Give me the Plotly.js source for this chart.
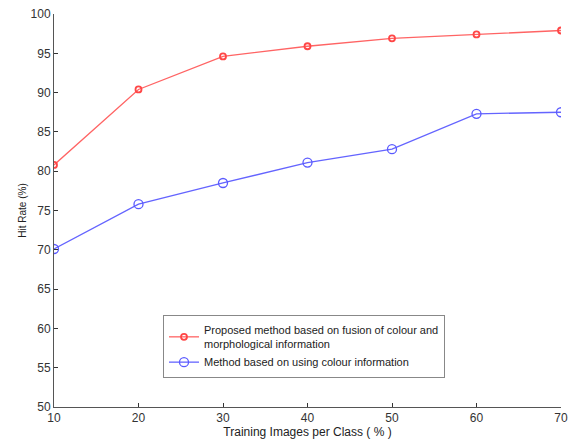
<!DOCTYPE html>
<html><head><meta charset="utf-8">
<script src="https://cdn.plot.ly/plotly-3.0.1.min.js"></script>
<style>html,body{margin:0;padding:0;background:#fff}#chart{width:568px;height:439px}</style>
</head><body><div id="chart"></div>
<script>
const trainingPct = [10, 20, 30, 40, 50, 60, 70];
const proposedHitRate = [80.8, 90.4, 94.6, 95.9, 96.9, 97.4, 97.9];
const colourOnlyHitRate = [70.1, 75.8, 78.5, 81.1, 82.8, 87.3, 87.5];
const proposedName = 'Proposed method based on fusion of colour and<br>morphological information';
const colourOnlyName = 'Method based on using colour information';
const xTicks = [10, 20, 30, 40, 50, 60, 70];
const yTicks = [50, 55, 60, 65, 70, 75, 80, 85, 90, 95, 100];

const traces = [
  {x: trainingPct, y: proposedHitRate, name: proposedName, mode: 'lines+markers', type: 'scatter',
   line: {color: 'rgb(255,100,100)', width: 1.3},
   marker: {symbol: 'circle-open', size: 6, color: 'rgb(255,70,70)', line: {width: 1.8, color: 'rgb(255,70,70)'}}},
  {x: trainingPct, y: colourOnlyHitRate, name: colourOnlyName, mode: 'lines+markers', type: 'scatter',
   line: {color: 'rgb(100,100,255)', width: 1.3},
   marker: {symbol: 'circle-open', size: 9, color: 'rgb(90,90,255)', line: {width: 1.3, color: 'rgb(90,90,255)'}}}
];

const layout = {
  width: 568, height: 439,
  margin: {l: 54, r: 7, t: 14, b: 32},
  paper_bgcolor: '#fff', plot_bgcolor: '#fff',
  font: {family: 'Liberation Sans, Arial, sans-serif', color: '#333', size: 12},
  showlegend: true,
  legend: {x: 0.215, y: 0.234, xanchor: 'left', yanchor: 'top', bordercolor: '#888', borderwidth: 1,
           bgcolor: '#fff', font: {size: 11, color: '#222'}, tracegroupgap: 0},
  xaxis: {range: [10, 70], tickvals: xTicks, ticks: 'inside', ticklen: 4, tickcolor: '#333',
          showline: true, linecolor: '#555', linewidth: 1, showgrid: false, zeroline: false,
          tickfont: {size: 12, color: '#333'},
          title: {text: 'Training Images per Class ( % )', font: {size: 12, color: '#222'}, standoff: 1}},
  yaxis: {range: [50, 100], tickvals: yTicks, ticks: 'inside', ticklen: 4, tickcolor: '#333',
          showline: true, linecolor: '#555', linewidth: 1, showgrid: false, zeroline: false,
          tickfont: {size: 12, color: '#333'},
          title: {text: 'Hit Rate (%)', font: {size: 10, color: '#222'}, standoff: 2}}
};
Plotly.newPlot('chart', traces, layout, {staticPlot: true, displayModeBar: false});
</script></body></html>
